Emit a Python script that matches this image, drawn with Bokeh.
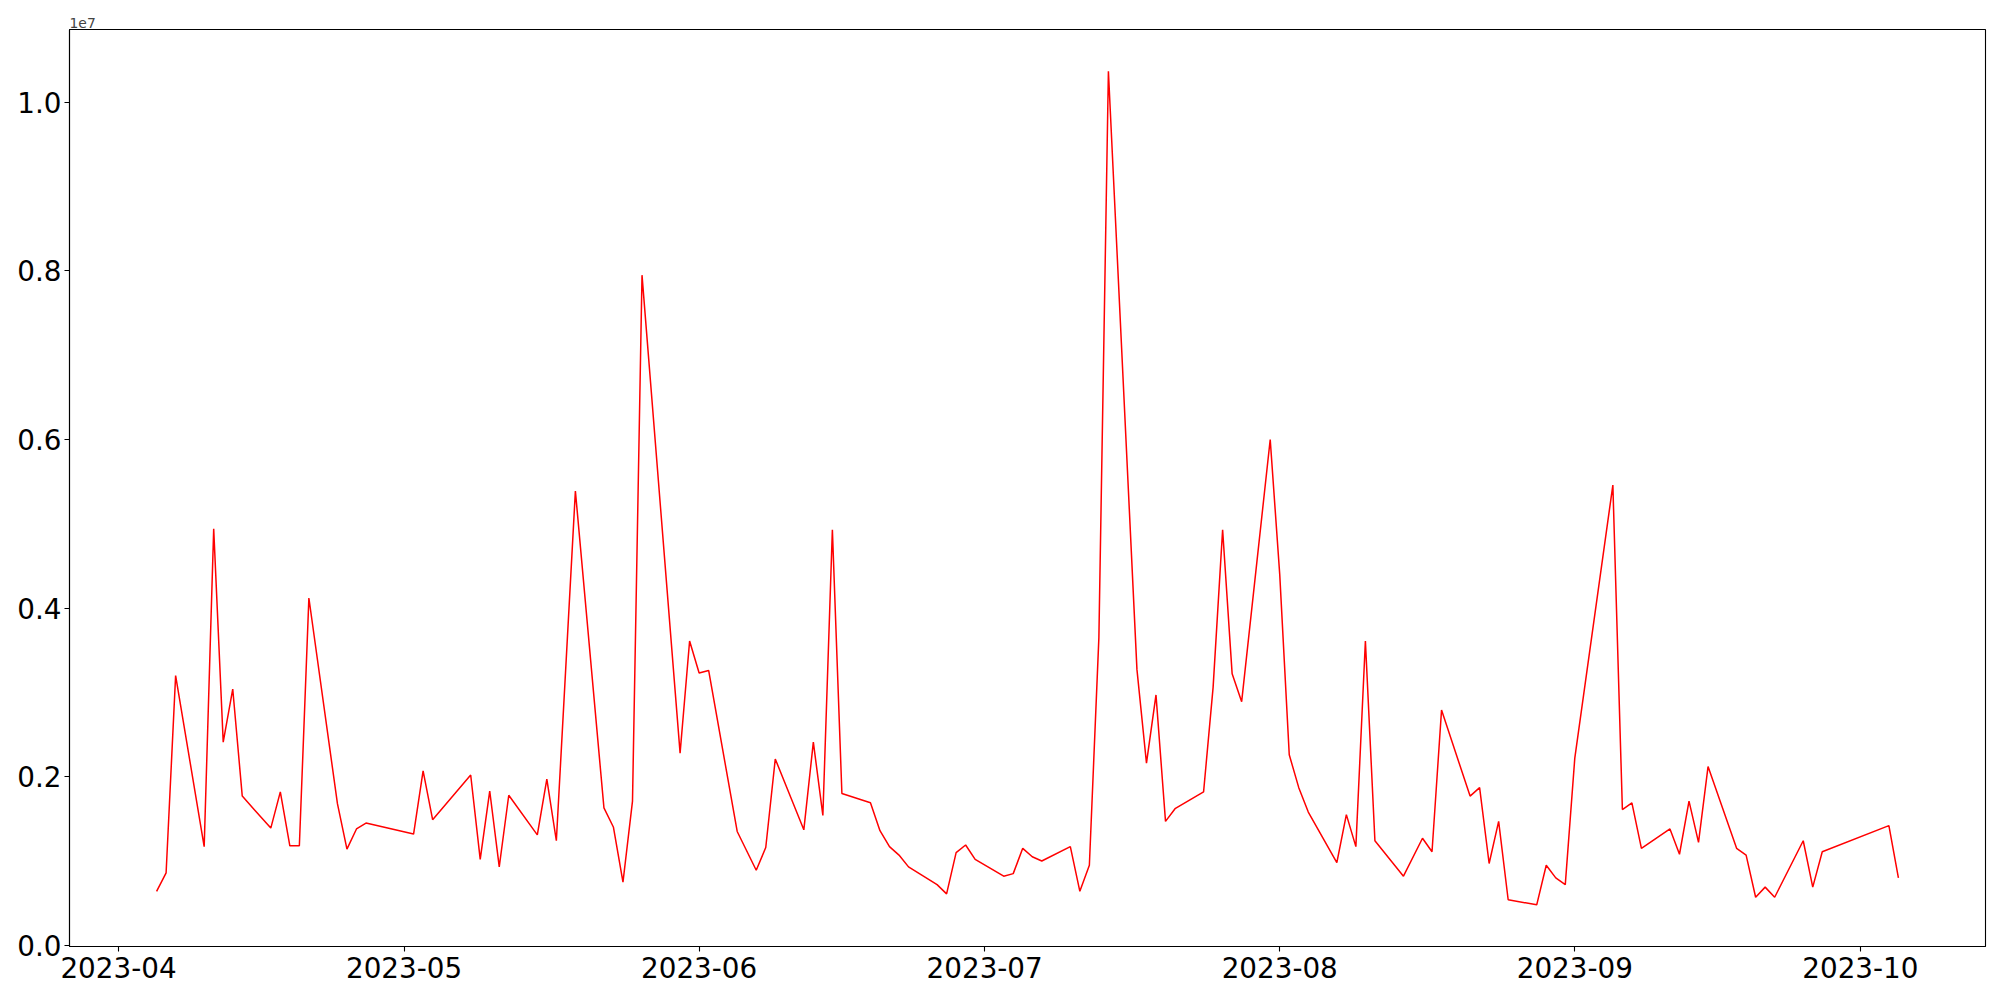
import pandas as pd
from bokeh.plotting import figure
from bokeh.models import FixedTicker, DatetimeTickFormatter, Range1d
from bokeh.embed import file_html
from bokeh.resources import INLINE

# ---- data ----
dates = [
    "2023-04-05", "2023-04-06", "2023-04-07", "2023-04-10", "2023-04-11", "2023-04-12",
    "2023-04-13", "2023-04-14", "2023-04-17", "2023-04-18", "2023-04-19", "2023-04-20",
    "2023-04-21", "2023-04-24", "2023-04-25", "2023-04-26", "2023-04-27", "2023-05-02",
    "2023-05-03", "2023-05-04", "2023-05-08", "2023-05-09", "2023-05-10", "2023-05-11",
    "2023-05-12", "2023-05-15", "2023-05-16", "2023-05-17", "2023-05-19", "2023-05-22",
    "2023-05-23", "2023-05-24", "2023-05-25", "2023-05-26", "2023-05-30", "2023-05-31",
    "2023-06-01", "2023-06-02", "2023-06-05", "2023-06-07", "2023-06-08", "2023-06-09",
    "2023-06-12", "2023-06-13", "2023-06-14", "2023-06-15", "2023-06-16", "2023-06-19",
    "2023-06-20", "2023-06-21", "2023-06-22", "2023-06-23", "2023-06-26", "2023-06-27",
    "2023-06-28", "2023-06-29", "2023-06-30", "2023-07-03", "2023-07-04", "2023-07-05",
    "2023-07-06", "2023-07-07", "2023-07-10", "2023-07-11", "2023-07-12", "2023-07-13",
    "2023-07-14", "2023-07-17", "2023-07-18", "2023-07-19", "2023-07-20", "2023-07-21",
    "2023-07-24", "2023-07-25", "2023-07-26", "2023-07-27", "2023-07-28", "2023-07-31",
    "2023-08-01", "2023-08-02", "2023-08-03", "2023-08-04", "2023-08-07", "2023-08-08",
    "2023-08-09", "2023-08-10", "2023-08-11", "2023-08-14", "2023-08-16", "2023-08-17",
    "2023-08-18", "2023-08-21", "2023-08-22", "2023-08-23", "2023-08-24", "2023-08-25",
    "2023-08-28", "2023-08-29", "2023-08-30", "2023-08-31", "2023-09-01", "2023-09-05",
    "2023-09-06", "2023-09-07", "2023-09-08", "2023-09-11", "2023-09-12", "2023-09-13",
    "2023-09-14", "2023-09-15", "2023-09-18", "2023-09-19", "2023-09-20", "2023-09-21",
    "2023-09-22", "2023-09-25", "2023-09-26", "2023-09-27", "2023-10-04", "2023-10-05",
]

values_millions = [
    0.64, 0.86, 3.20, 1.17, 4.94, 2.41,
    3.04, 1.77, 1.39, 1.82, 1.18, 1.18,
    4.12, 1.68, 1.14, 1.38, 1.45, 1.32,
    2.07, 1.49, 2.02, 1.02, 1.83, 0.93,
    1.78, 1.31, 1.97, 1.24, 5.39, 1.63,
    1.40, 0.75, 1.71, 7.95, 2.28, 3.61,
    3.23, 3.26, 1.35, 0.89, 1.16, 2.21,
    1.37, 2.41, 1.54, 4.93, 1.80, 1.69,
    1.36, 1.17, 1.07, 0.93, 0.72, 0.61,
    1.10, 1.19, 1.02, 0.82, 0.85, 1.15,
    1.05, 1.00, 1.17, 0.64, 0.95, 3.65,
    10.37, 3.27, 2.16, 2.97, 1.47, 1.62,
    1.82, 3.06, 4.93, 3.22, 2.89, 6.00,
    4.40, 2.26, 1.87, 1.58, 0.98, 1.55,
    1.17, 3.61, 1.24, 0.82, 1.27, 1.11,
    2.79, 1.77, 1.87, 0.97, 1.47, 0.54,
    0.48, 0.95, 0.80, 0.72, 2.22, 5.46,
    1.61, 1.69, 1.15, 1.38, 1.08, 1.71,
    1.22, 2.12, 1.15, 1.07, 0.57, 0.69,
    0.57, 1.24, 0.69, 1.11, 1.42, 0.80,
]

x_tick_labels = ["2023-04", "2023-05", "2023-06", "2023-07", "2023-08", "2023-09", "2023-10"]
y_tick_values = [0.0, 2e6, 4e6, 6e6, 8e6, 1e7]
y_tick_labels = ["0.0", "0.2", "0.4", "0.6", "0.8", "1.0"]
offset_label = "1e7"

# ---- derived ----
x = pd.to_datetime(dates)
y = [v * 1e6 for v in values_millions]

x_ms = x.astype("int64") // 10**6
span_x = float(x_ms.max() - x_ms.min())
x_start = float(x_ms.min()) - 0.05 * span_x
x_end = float(x_ms.max()) + 0.05 * span_x
span_y = max(y) - min(y)
y_start = min(y) - 0.05 * span_y
y_end = max(y) + 0.05 * span_y

font = "DejaVu Sans"

p = figure(
    width=2000, height=1000,
    x_axis_type="datetime",
    output_backend="svg",
    toolbar_location=None,
    x_range=Range1d(x_start, x_end),
    y_range=Range1d(y_start, y_end),
    min_border_left=69, min_border_right=15,
    min_border_top=29, min_border_bottom=54,
    background_fill_color="white",
    border_fill_color="white",
)

p.line(x, y, line_color="red", line_width=1.5)

p.grid.visible = False
p.outline_line_color = "black"
p.outline_line_width = 1.1
p.outline_line_alpha = 1.0

# title as the offset text
p.title.text = offset_label
p.title.align = "left"
p.title.text_font = font
p.title.text_font_size = "13.9px"
p.title.text_font_style = "normal"
p.title.standoff = 3

# x axis
x_tick_ms = [pd.Timestamp(t + "-01").value // 10**6 for t in x_tick_labels]
p.xaxis.ticker = FixedTicker(ticks=x_tick_ms)
fmt = "%Y-%m"
p.xaxis.formatter = DatetimeTickFormatter(
    milliseconds=fmt, seconds=fmt, minsec=fmt, minutes=fmt, hourmin=fmt,
    hours=fmt, days=fmt, months=fmt, years=fmt,
)

# y axis
p.yaxis.ticker = FixedTicker(ticks=y_tick_values)
p.yaxis.major_label_overrides = {v: l for v, l in zip(y_tick_values, y_tick_labels)}

for ax in (p.xaxis, p.yaxis):
    ax.major_label_text_font = font
    ax.major_label_text_font_size = "27.8px"
    ax.major_label_text_color = "black"
    ax.axis_line_color = "black"
    ax.axis_line_width = 1.1
    ax.major_tick_line_color = "black"
    ax.major_tick_line_width = 1.1
    ax.major_tick_out = 5
    ax.major_tick_in = 0
    ax.minor_tick_line_color = None

p.xaxis.major_label_standoff = 5
p.yaxis.major_label_standoff = 3

open("out.html", "w").write(file_html(p, INLINE))
